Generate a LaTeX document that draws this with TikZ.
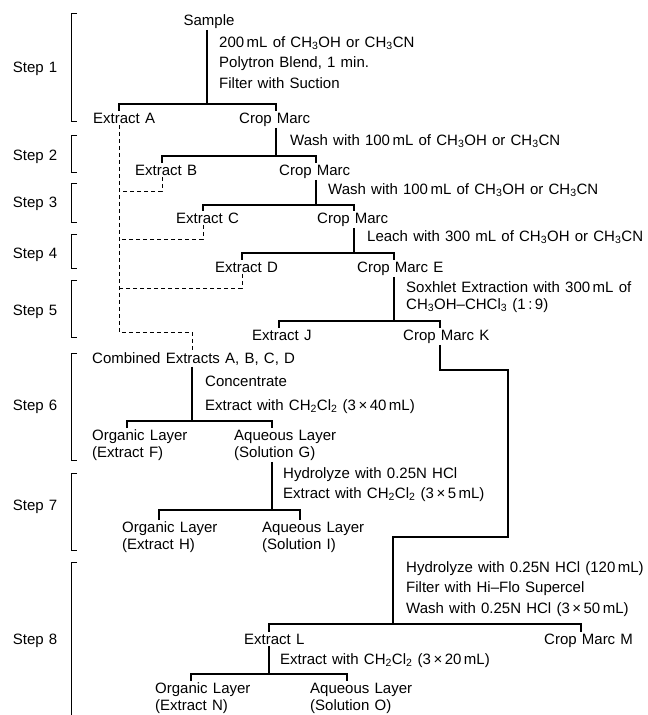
\documentclass[tikz,border=0pt]{standalone}
\usepackage{fontspec}
\setmainfont[WordSpace=1.25]{Liberation Sans}
\usetikzlibrary{positioning}
\newcommand\schemefont{\fontsize{15}{17}\selectfont}
\tikzset {
  x=1pt, y=-1pt,
  % plain text of the scheme
  lbl/.style = {inner sep=1.5pt, anchor=base west, font=\schemefont},
  % two line labels of the layers
  layer/.style = {lbl, anchor=north west, align=left},
  % lines of the scheme
  flow/.style = {line width=1.3pt},
  % extracts that are put together
  pooled/.style = {line width=0.9pt, dash pattern=on 4pt off 3pt},
  % brackets of the steps
  brk/.style = {line width=0.9pt},
}

\begin{document}
\begin{tikzpicture}
  \useasboundingbox (0,0) rectangle (648,715);

  % steps
  \foreach \n/\t/\b/\m in {1/13/121/72, 2/135/172/160, 3/183/222/207, 4/234/268/258,
                           5/280/337/315, 6/353/460/410, 7/473/550/510} {
    \draw [brk] (77,\t) -- (71,\t) -- (71,\b) -- (77,\b);
    \node [lbl, anchor=base east] (st\n) at (59,\m) {Step \n};
  }
  \draw [brk] (77,562) -- (71,562) -- (71,715);
  \node [lbl, anchor=base east] (st8) at (59,644) {Step 8};

  % step 1
  \node [lbl, anchor=base] (smp) at (209,25) {Sample};
  \node [lbl] (s1a) at (217.5,47) {200\,mL of CH\textsubscript{3}OH or CH\textsubscript{3}CN};
  \node [lbl] (s1b) at (217.5,67) {Polytron Blend, 1 min.};
  \node [lbl] (s1c) at (217.5,88) {Filter with Suction};
  \node [lbl] (exA) at (91.5,123) {Extract A};
  \node [lbl] (cmA) at (237.5,123) {Crop Marc};
  \coordinate (f1) at (207,104);
  \coordinate (f1l) at (119,104);
  \coordinate (f1r) at (276,104);
  \draw [flow] (f1 |- smp.south) -- (f1);
  \draw [flow] (exA.north -| f1l) -- (f1l) -- (f1r) -- (cmA.north -| f1r);

  % step 2
  \node [lbl] (s2) at (288.5,145) {Wash with 100\,mL of CH\textsubscript{3}OH or CH\textsubscript{3}CN};
  \node [lbl] (exB) at (133.5,175) {Extract B};
  \node [lbl] (cmB) at (277.5,175) {Crop Marc};
  \coordinate (f2) at (276,156);
  \coordinate (f2l) at (162,156);
  \coordinate (f2r) at (316,156);
  \draw [flow] (cmA.south -| f2) -- (f2);
  \draw [flow] (exB.north -| f2l) -- (f2l) -- (f2r) -- (cmB.north -| f2r);

  % step 3
  \node [lbl] (s3) at (326.5,194) {Wash with 100\,mL of CH\textsubscript{3}OH or CH\textsubscript{3}CN};
  \node [lbl] (exC) at (174.5,223) {Extract C};
  \node [lbl] (cmC) at (315.5,223) {Crop Marc};
  \coordinate (f3) at (316,205);
  \coordinate (f3l) at (203,205);
  \coordinate (f3r) at (354,205);
  \draw [flow] (cmB.south -| f3) -- (f3);
  \draw [flow] (exC.north -| f3l) -- (f3l) -- (f3r) -- (cmC.north -| f3r);

  % step 4
  \node [lbl] (s4) at (365.5,241) {Leach with 300 mL of CH\textsubscript{3}OH or CH\textsubscript{3}CN};
  \node [lbl] (exD) at (213.5,272) {Extract D};
  \node [lbl] (cmE) at (355.5,272) {Crop Marc E};
  \coordinate (f4) at (354,253);
  \coordinate (f4l) at (242,253);
  \coordinate (f4r) at (394,253);
  \draw [flow] (cmC.south -| f4) -- (f4);
  \draw [flow] (exD.north -| f4l) -- (f4l) -- (f4r) -- (cmE.north -| f4r);

  % step 5
  \node [lbl] (s5a) at (404.5,292) {Soxhlet Extraction with 300\,mL of};
  \node [lbl] (s5b) at (404.5,309) {CH\textsubscript{3}OH--CHCl\textsubscript{3} (1\,:\,9)};
  \node [lbl] (exJ) at (250.5,340) {Extract J};
  \node [lbl] (cmK) at (401.5,340) {Crop Marc K};
  \coordinate (f5) at (394,321);
  \coordinate (f5l) at (279,321);
  \coordinate (f5r) at (440,321);
  \draw [flow] (cmE.south -| f5) -- (f5);
  \draw [flow] (exJ.north -| f5l) -- (f5l) -- (f5r) -- (cmK.north -| f5r);

  % extracts A to D put together
  \coordinate (pA) at (119,332);
  \coordinate (pB) at (162,191);
  \coordinate (pC) at (203,239);
  \coordinate (pD) at (242,288);
  \coordinate (p6) at (192,332);
  \node [lbl] (cmb) at (90.5,363) {Combined Extracts A, B, C, D};
  \draw [pooled] (exA.south -| f1l) -- (pA) -- (p6) -- (cmb.north -| p6);
  \draw [pooled] (exB.south -| f2l) -- (pB) -- (pB -| f1l);
  \draw [pooled] (exC.south -| f3l) -- (pC) -- (pC -| f1l);
  \draw [pooled] (exD.south -| f4l) -- (pD) -- (pD -| f1l);

  % step 6
  \node [lbl] (s6a) at (203.5,386) {Concentrate};
  \node [lbl] (s6b) at (203.5,410) {Extract with CH\textsubscript{2}Cl\textsubscript{2} (3\,×\,40\,mL)};
  \node [layer] (orgF) at (90.5,428) {Organic Layer\\(Extract F)};
  \node [layer] (aqG) at (232.5,428) {Aqueous Layer\\(Solution G)};
  \coordinate (f6) at (192,421);
  \coordinate (f6l) at (127,421);
  \coordinate (f6r) at (272,421);
  \draw [flow] (cmb.south -| f6) -- (f6);
  \draw [flow] (orgF.north -| f6l) -- (f6l) -- (f6r) -- (aqG.north -| f6r);

  % step 7
  \node [lbl] (s7a) at (281.5,478) {Hydrolyze with 0.25N HCl};
  \node [lbl] (s7b) at (281.5,498) {Extract with CH\textsubscript{2}Cl\textsubscript{2} (3\,×\,5\,mL)};
  \node [layer] (orgH) at (120.5,520) {Organic Layer\\(Extract H)};
  \node [layer] (aqI) at (260.5,520) {Aqueous Layer\\(Solution I)};
  \coordinate (f7) at (272,510);
  \coordinate (f7l) at (159,510);
  \coordinate (f7r) at (300,510);
  \draw [flow] (aqG.south -| f7) -- (f7);
  \draw [flow] (orgH.north -| f7l) -- (f7l) -- (f7r) -- (aqI.north -| f7r);

  % step 8
  \coordinate (k1) at (440,370);
  \coordinate (k2) at (508,370);
  \coordinate (k3) at (508,537);
  \coordinate (k4) at (393,537);
  \coordinate (f8) at (393,624);
  \coordinate (f8l) at (269,624);
  \coordinate (f8r) at (581,624);
  \draw [flow] (cmK.south -| k1) -- (k1) -- (k2) -- (k3) -- (k4) -- (f8);
  \node [lbl] (s8a) at (404.5,572) {Hydrolyze with 0.25N HCl (120\,mL)};
  \node [lbl] (s8b) at (404.5,592) {Filter with Hi--Flo Supercel};
  \node [lbl] (s8c) at (404.5,613) {Wash with 0.25N HCl (3\,×\,50\,mL)};
  \node [lbl] (exL) at (242.5,644) {Extract L};
  \node [lbl] (cmM) at (542.5,644) {Crop Marc M};
  \draw [flow] (exL.north -| f8l) -- (f8l) -- (f8r) -- (cmM.north -| f8r);

  \node [lbl] (s9) at (278.5,664) {Extract with CH\textsubscript{2}Cl\textsubscript{2} (3\,×\,20\,mL)};
  \node [layer] (orgN) at (153.5,681) {Organic Layer\\(Extract N)};
  \node [layer] (aqO) at (308.5,681) {Aqueous Layer\\(Solution O)};
  \coordinate (f9) at (269,674);
  \coordinate (f9l) at (191,674);
  \coordinate (f9r) at (347,674);
  \draw [flow] (exL.south -| f9) -- (f9);
  \draw [flow] (orgN.north -| f9l) -- (f9l) -- (f9r) -- (aqO.north -| f9r);
\end{tikzpicture}
\end{document}
